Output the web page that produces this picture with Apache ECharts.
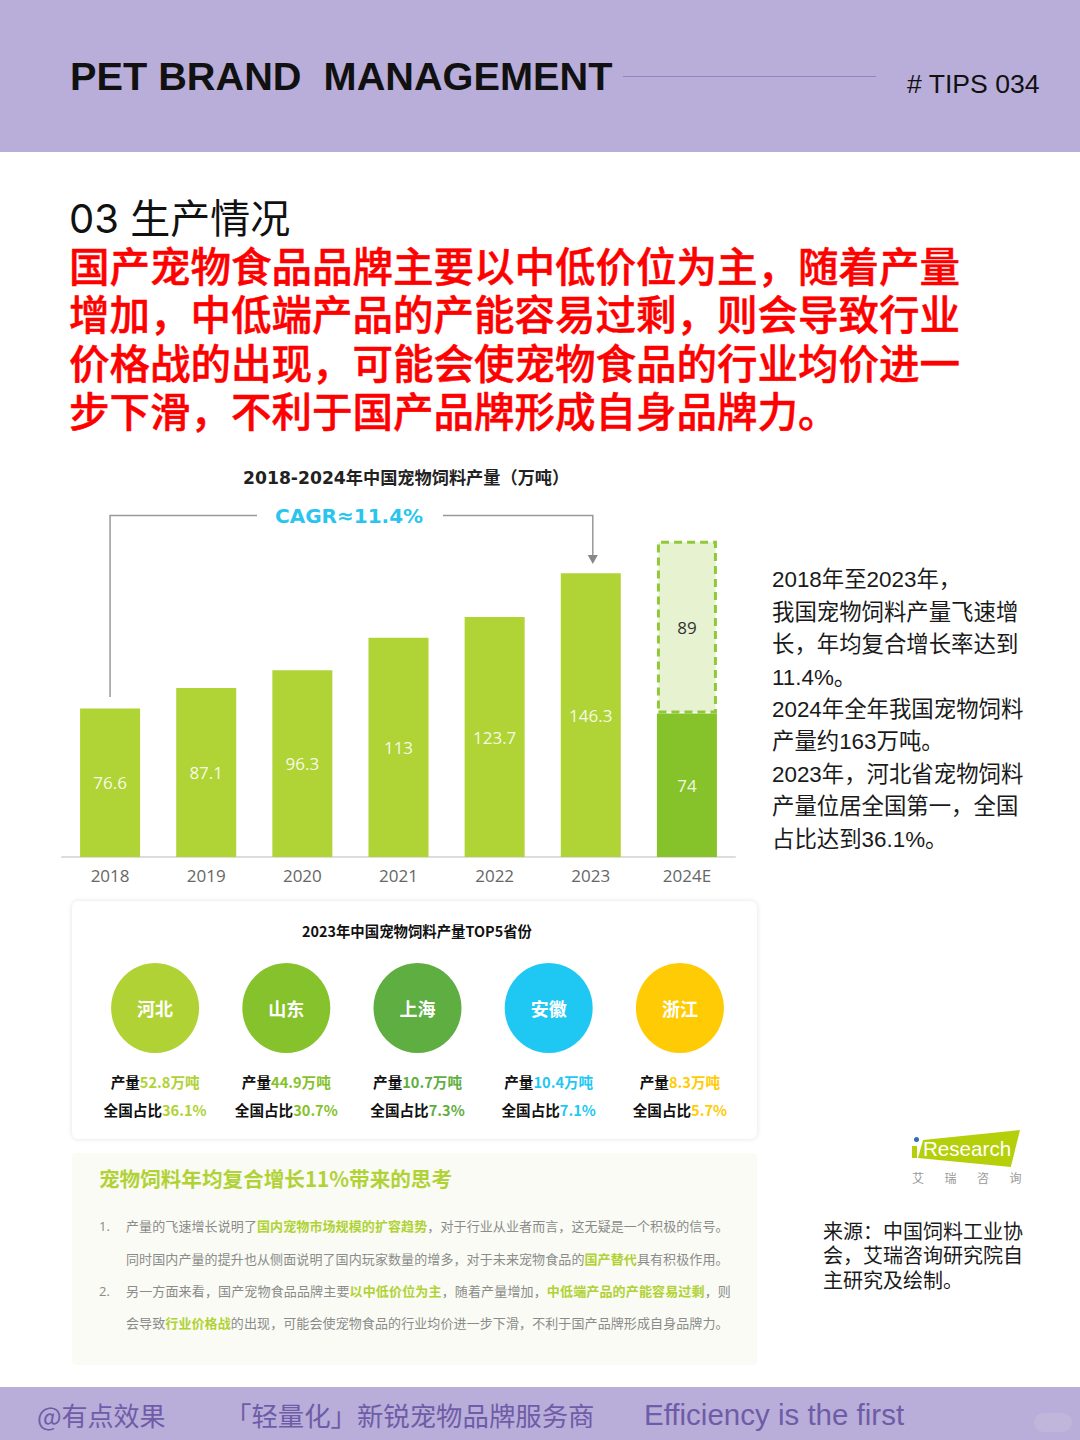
<!DOCTYPE html>
<html lang="zh">
<head>
<meta charset="utf-8">
<title>PET BRAND MANAGEMENT</title>
<script src="https://cdn.jsdelivr.net/npm/echarts@6/dist/echarts.min.js"></script>
<style>
html,body{margin:0;padding:0;background:#fff;}
#page{position:relative;width:1080px;height:1440px;overflow:hidden;background:#fff;font-family:"Noto Sans CJK SC","Noto Sans",sans-serif;}
#page div{position:absolute;white-space:nowrap;}
.band{left:0;width:1080px;background:#b9aed9;}
.line{line-height:1;color:#111;}
.red{left:69px;font-size:40.5px;font-weight:500;-webkit-text-stroke:.5px #f00;color:#f00;line-height:48px;}
.side{left:772px;font-family:"Liberation Sans","Noto Sans CJK SC",sans-serif;font-size:22.4px;line-height:32.4px;color:#1a1a1a;}
.src{left:823px;font-size:20px;line-height:24.4px;color:#1a1a1a;}
.body{left:126px;font-size:13px;letter-spacing:.1px;line-height:18px;color:#8b8b8b;}
.body b{color:#b0d235;font-weight:700;}
.num{left:99px;font-size:13px;line-height:18px;color:#8b8b8b;font-family:"Open Sans",sans-serif;}
.foot{color:#6f5ca8;line-height:1;}
#chart{left:0;top:0;width:1080px;height:1440px;}
</style>
</head>
<body>
<div id="page">
  <div class="band" style="top:0;height:152px"></div>
  <div class="line" style="left:70px;top:54px;font:700 39.7px 'Liberation Sans';white-space:pre">PET BRAND  MANAGEMENT</div>
  <div style="left:623px;top:76px;width:253px;height:1px;background:#9184c2"></div>
  <div class="line" style="left:907px;top:69px;font:26.6px 'Liberation Sans'"># TIPS 034</div>

  <div class="line" style="left:69px;top:196px;font-family:Inter,'Noto Sans CJK SC',sans-serif;font-size:40px;color:#111;line-height:46px">03 生产情况</div>
  <div class="red" style="top:241px">国产宠物食品品牌主要以中低价位为主，随着产量</div>
  <div class="red" style="top:289px">增加，中低端产品的产能容易过剩，则会导致行业</div>
  <div class="red" style="top:338px">价格战的出现，可能会使宠物食品的行业均价进一</div>
  <div class="red" style="top:386px">步下滑，不利于国产品牌形成自身品牌力。</div>

  <div class="side" style="top:564px">2018年至2023年，</div>
  <div class="side" style="top:597px">我国宠物饲料产量飞速增</div>
  <div class="side" style="top:629px">长，年均复合增长率达到</div>
  <div class="side" style="top:662px">11.4%。</div>
  <div class="side" style="top:694px">2024年全年我国宠物饲料</div>
  <div class="side" style="top:726px">产量约163万吨。</div>
  <div class="side" style="top:759px">2023年，河北省宠物饲料</div>
  <div class="side" style="top:791px">产量位居全国第一，全国</div>
  <div class="side" style="top:824px">占比达到36.1%。</div>

  <div style="left:72px;top:901px;width:685px;height:238px;background:#fff;border-radius:6px;box-shadow:0 0 5px rgba(0,0,0,.12)"></div>
  <div style="left:72px;top:1153px;width:685px;height:212px;background:#f9fbf4;border-radius:4px"></div>
  <div style="left:99px;top:1163px;font-size:20.6px;font-weight:700;line-height:30px;color:#b0d235">宠物饲料年均复合增长11%带来的思考</div>
  <div class="num" style="top:1217px">1.</div>
  <div class="body" style="top:1217px">产量的飞速增长说明了<b>国内宠物市场规模的扩容趋势</b>，对于行业从业者而言，这无疑是一个积极的信号。</div>
  <div class="body" style="top:1250px">同时国内产量的提升也从侧面说明了国内玩家数量的增多，对于未来宠物食品的<b>国产替代</b>具有积极作用。</div>
  <div class="num" style="top:1282px">2.</div>
  <div class="body" style="top:1282px;letter-spacing:.15px">另一方面来看，国产宠物食品品牌主要<b>以中低价位为主</b>，随着产量增加，<b>中低端产品的产能容易过剩</b>，则</div>
  <div class="body" style="top:1314px">会导致<b>行业价格战</b>的出现，可能会使宠物食品的行业均价进一步下滑，不利于国产品牌形成自身品牌力。</div>

  <div style="left:914px;top:1137px;width:5px;height:5px;border-radius:50%;background:#2f6fb5"></div>
  <div style="left:912px;top:1146px;width:5px;height:12px;background:#b5cf0b"></div>
  <div style="left:918px;top:1130px;width:102px;height:37px;background:#b5cf0b;clip-path:polygon(5% 27%,100% 0,91% 100%,0 76%)"></div>
  <div style="left:923px;top:1135px;font:20.6px/28px 'Liberation Sans';color:#fff">Research</div>
  <div style="left:912px;top:1171px;font-size:12px;line-height:14px;color:#999;letter-spacing:20.5px">艾瑞咨询</div>

  <div class="src" style="top:1219px">来源：中国饲料工业协</div>
  <div class="src" style="top:1243px">会，艾瑞咨询研究院自</div>
  <div class="src" style="top:1268px">主研究及绘制。</div>

  <div class="band" style="top:1387px;height:53px"></div>
  <div class="foot" style="left:37px;top:1400px;font-size:26px;line-height:30px">@有点效果</div>
  <div class="foot" style="left:225px;top:1400px;font-size:26.4px;line-height:30px">「轻量化」新锐宠物品牌服务商</div>
  <div class="foot" style="left:644px;top:1399px;font:29.5px/32px 'Liberation Sans'">Efficiency is the first</div>
  <div style="left:1034px;top:1413px;width:38px;height:19px;border-radius:10px;background:rgba(255,255,255,.1)"></div>

  <div id="chart"></div>
</div>
<script>
// 产量柱状图数据
var years = ['2018', '2019', '2020', '2021', '2022', '2023', '2024E']
var outputValues = [76.6, 87.1, 96.3, 113, 123.7, 146.3, 74]
var forecastValues = [null, null, null, null, null, null, 89]
// TOP5省份数据
var provinces = ['河北', '山东', '上海', '安徽', '浙江']
var provinceOutput = ['52.8', '44.9', '10.7', '10.4', '8.3']
var provinceShare = ['36.1', '30.7', '7.3', '7.1', '5.7']
var provinceColors = ['#b0d235', '#86c22b', '#5fae41', '#1fc8f3', '#ffcb05']

var cjk = '"Noto Sans CJK SC"'
var barColor = '#b0d435'
var lastColor = '#86c32a'

var myChart = echarts.init(document.getElementById('chart'), null, { renderer: 'svg' })

var rich = { k: { fontFamily: cjk, fontSize: 14.6, fontWeight: 700, color: '#111', lineHeight: 28 } }
provinceColors.forEach(function (c, i) {
    rich['c' + i] = { fontFamily: cjk, fontSize: 14.6, fontWeight: 700, color: c, lineHeight: 28 }
})

var option = {
    animation: false,
    backgroundColor: 'transparent',
    title: [
        { text: '2018-2024年中国宠物饲料产量（万吨）', left: 238, top: 462, itemGap: 0,
          textStyle: { fontFamily: '"DejaVu Sans",' + cjk, fontSize: 17.2, fontWeight: 700, color: '#222', lineHeight: 22 } },
        { text: '2023年中国宠物饲料产量TOP5省份', left: 297, top: 914,
          textStyle: { fontFamily: cjk, fontSize: 14.4, fontWeight: 700, color: '#111', lineHeight: 22 } }
    ],
    grid: [
        { left: 62, width: 673, top: 469, height: 388 },
        { left: 89.5, width: 656, top: 963, height: 90 }
    ],
    xAxis: [
        { type: 'category', gridIndex: 0, data: years,
          axisLine: { lineStyle: { color: '#ddd', width: 2 } }, axisTick: { show: false },
          axisLabel: { color: '#666', fontSize: 17, margin: 10, fontFamily: 'Open Sans' } },
        { type: 'category', gridIndex: 1, data: provinces, show: false }
    ],
    yAxis: [
        { type: 'value', gridIndex: 0, min: 0, max: 200, show: false },
        { type: 'category', gridIndex: 1, data: ['top5'], show: false }
    ],
    series: [
        { name: '产量', type: 'bar', stack: 'total', barWidth: 60, xAxisIndex: 0, yAxisIndex: 0,
          data: outputValues.map(function (v, i) {
              return { value: v, itemStyle: { color: i == years.length - 1 ? lastColor : barColor } }
          }),
          label: { show: true, position: 'inside', color: 'rgba(255,255,255,.9)', fontSize: 17, fontFamily: 'Open Sans' } },
        { name: '预测', type: 'bar', stack: 'total', barWidth: 60, xAxisIndex: 0, yAxisIndex: 0,
          data: forecastValues,
          itemStyle: { color: '#e7f2d0', borderColor: '#8fc93a', borderWidth: 3, borderType: [8, 5] },
          label: { show: true, position: 'inside', color: '#333', fontSize: 17, fontFamily: 'Open Sans' } },
        { name: '省份', type: 'scatter', xAxisIndex: 1, yAxisIndex: 1, symbolSize: [88, 90],
          data: provinces.map(function (p, i) {
              return { value: [p, 'top5'], itemStyle: { color: provinceColors[i], opacity: 1 } }
          }),
          label: { show: true, position: 'inside', color: '#fff', fontSize: 18, fontWeight: 700, fontFamily: cjk,
                   formatter: function (p) { return p.value[0] } } },
        { name: '占比', type: 'scatter', xAxisIndex: 1, yAxisIndex: 1, symbolSize: 1,
          itemStyle: { color: 'transparent', opacity: 1 },
          data: provinces.map(function (p) { return [p, 'top5'] }),
          label: { show: true, position: 'inside', offset: [0, 87], rich: rich,
                   formatter: function (p) {
                       var i = p.dataIndex
                       return '{k|产量}{c' + i + '|' + provinceOutput[i] + '万吨}\n{k|全国占比}{c' + i + '|' + provinceShare[i] + '%}'
                   } } }
    ]
}
myChart.setOption(option)

// CAGR连接线，横向位置取自类目轴
var startX = myChart.convertToPixel({ xAxisIndex: 0 }, '2018')
var endX = myChart.convertToPixel({ xAxisIndex: 0 }, '2023') + 2
var lineStyle = { stroke: '#999', lineWidth: 1.5, fill: null }
myChart.setOption({
    graphic: [
        { type: 'polyline', shape: { points: [[startX, 697], [startX, 515.5], [257, 515.5]] }, style: lineStyle },
        { type: 'polyline', shape: { points: [[443, 515.5], [endX, 515.5], [endX, 556]] }, style: lineStyle },
        { type: 'polygon', shape: { points: [[endX - 5, 555], [endX + 5, 555], [endX, 564]] }, style: { fill: '#888' } },
        { type: 'text', x: 275, y: 506, style: { text: 'CAGR≈11.4%', fill: '#29c5ee', fontSize: 20, fontWeight: 700, fontFamily: '"DejaVu Sans"' } }
    ]
})
</script>
</body>
</html>
